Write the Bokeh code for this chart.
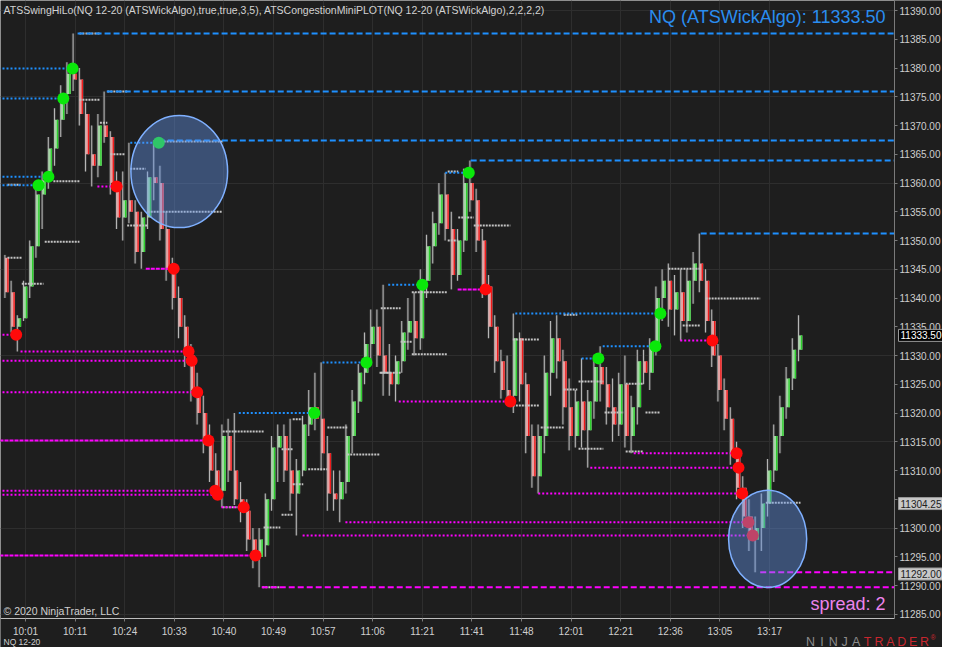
from bokeh.plotting import figure
from bokeh.models import (FixedTicker, SingleIntervalTicker, Label, PrintfTickFormatter,
                          ColumnDataSource, BoxAnnotation)
from bokeh.embed import file_html
from bokeh.resources import INLINE

# ---------------- data (bar index = one candle) ----------------
opens = [11347, 11341, 11335, 11336.5, 11342, 11349, 11358, 11360.5, 11366, 11371,
         11375.5, 11379, 11378, 11372, 11365, 11363, 11370, 11368, 11360, 11354,
         11357, 11355, 11348, 11354, 11361, 11360, 11352, 11345, 11340, 11335,
         11330, 11324, 11320, 11315.5, 11310, 11306.5, 11316, 11310, 11305, 11303,
         11298, 11295, 11297, 11305, 11314, 11316, 11310, 11306, 11310, 11318,
         11321, 11319, 11313, 11306, 11305, 11308, 11316, 11322, 11327, 11332,
         11335, 11330, 11327, 11325, 11329, 11334, 11336, 11333, 11343, 11349,
         11353, 11358, 11352, 11344, 11350, 11360, 11357, 11350, 11342, 11335,
         11329, 11324, 11323, 11333, 11325, 11316, 11309, 11316, 11327, 11333,
         11329, 11321, 11316, 11322, 11317, 11322, 11328, 11325, 11321, 11318,
         11325, 11316, 11321, 11329, 11327, 11332, 11340, 11343, 11338, 11341,
         11336, 11343, 11346, 11343, 11336, 11330, 11324, 11319, 11313, 11307,
         11302, 11298, 11300, 11304.25, 11310, 11316, 11321, 11326, 11331]
highs = [11347.5, 11343, 11337, 11343, 11350, 11360, 11362, 11368, 11373, 11377,
         11381, 11386, 11380, 11374, 11370, 11372, 11375.9, 11369, 11362, 11362,
         11367, 11357, 11355, 11362, 11367.4, 11363, 11355, 11347, 11342, 11337,
         11332, 11327, 11323, 11318, 11313, 11318, 11319, 11320, 11308, 11305,
         11300, 11300, 11306, 11316, 11318, 11318, 11319, 11312, 11319.5, 11324,
         11327, 11328.8, 11316, 11310, 11310, 11318, 11324, 11328.5, 11334, 11338,
         11338, 11342.3, 11332, 11330, 11336, 11340, 11341, 11345, 11351, 11355,
         11360, 11361.8, 11355, 11352, 11362.5, 11363.9, 11359, 11352, 11344, 11337,
         11331, 11330, 11337.3, 11334, 11327, 11318, 11318, 11330, 11336, 11337,
         11331, 11326, 11324, 11329.5, 11324, 11330, 11331.6, 11328, 11326, 11327,
         11330, 11323, 11331, 11331, 11333, 11342, 11345, 11346, 11344, 11345,
         11345, 11348, 11351.2, 11345, 11338, 11332, 11326, 11321, 11315, 11309,
         11305, 11302, 11306, 11312, 11318, 11323, 11328, 11333, 11337]
lows = [11340, 11334, 11330.7, 11336, 11340, 11347, 11352, 11359, 11363, 11368,
        11372, 11376, 11370, 11362, 11359.4, 11361, 11367, 11358, 11352, 11350,
        11353, 11346, 11345.1, 11352, 11357, 11350, 11343, 11338, 11333, 11328,
        11322, 11318, 11313, 11308, 11305, 11303.6, 11308, 11304, 11301, 11296,
        11293, 11289.7, 11295, 11303, 11308, 11308, 11303, 11298.7, 11309, 11316,
        11317, 11310, 11303, 11303, 11301, 11306, 11313, 11320, 11325, 11329,
        11328, 11323, 11323, 11322, 11327, 11331, 11330, 11331, 11340, 11346,
        11351, 11350, 11341.5, 11343, 11348, 11355, 11348, 11340, 11333, 11327,
        11322.5, 11321.5, 11320, 11322, 11313, 11307, 11306, 11313, 11323, 11326,
        11318, 11313.5, 11314, 11314, 11310.5, 11319, 11322, 11318, 11315, 11316,
        11314, 11313, 11318, 11325, 11324, 11330, 11336, 11335, 11333.5, 11332.6,
        11334, 11339, 11341, 11334, 11328, 11322, 11317, 11311, 11305, 11300,
        11296, 11292.3, 11296, 11302, 11308, 11313, 11319, 11324, 11329]
closes = [11341, 11335, 11336.5, 11342, 11349, 11358, 11360.5, 11366, 11371, 11375.5,
          11379, 11378, 11372, 11365, 11363, 11370, 11368, 11360, 11354, 11357,
          11355, 11348, 11354, 11361, 11360, 11352, 11345, 11340, 11335, 11330,
          11324, 11320, 11315.5, 11310, 11306.5, 11316, 11310, 11305, 11303, 11298,
          11295, 11298, 11305, 11314, 11316, 11310, 11306, 11310, 11318, 11321,
          11319, 11313, 11306, 11305, 11308, 11316, 11322, 11327, 11332, 11335,
          11330, 11327, 11325, 11329, 11334, 11336, 11333, 11343, 11349, 11353,
          11358, 11352, 11344, 11350, 11360, 11357, 11350, 11342, 11335, 11329,
          11324, 11323, 11333, 11325, 11316, 11309, 11316, 11327, 11333, 11329,
          11321, 11316, 11322, 11317, 11322, 11328, 11325, 11321, 11318, 11325,
          11316, 11321, 11329, 11327, 11332, 11340, 11343, 11338, 11341, 11336,
          11343, 11346, 11343, 11336, 11330, 11324, 11319, 11313, 11307, 11302,
          11298, 11300, 11304.25, 11310, 11316, 11321, 11326, 11331, 11333.5]

time_tick_bars = [3, 11, 19, 27, 35, 43, 51, 59, 67, 75, 83, 91, 99, 107, 115, 123]
time_labels = ["10:01", "10:11", "10:24", "10:33", "10:40", "10:49", "10:57", "11:06",
               "11:21", "11:41", "11:48", "12:01", "12:21", "12:36", "13:05", "13:17"]

# swing highs that were broken (start bar, break bar, price)
hi_broken_start = [-2, -2, -2, -2, 19.9, 70.7, 61.5, 50.9, 37.4, 82.0, 96.1, 92.7]
hi_broken_end = [9.1, 10.6, 6.7, 5.1, 24.5, 74.5, 67.0, 58.0, 49.6, 105.4, 104.6, 95.4]
hi_broken_price = [11374.7, 11379.9, 11361.1, 11359.6, 11367.0, 11361.8, 11342.3, 11328.8,
                   11320.0, 11337.3, 11331.6, 11329.5]
# swing highs still open
hi_open_start = [11.4, 16.1, 24.5, 74.8, 111.9]
hi_open_price = [11386.0, 11375.9, 11367.4, 11363.9, 11351.2]

# swing lows that were broken (dotted)
lo_broken_start = [-2, 2.2, -2, -2, -2, -2, 14.6, 34.6, 54.6, 47.7, 63.2, 85.7, 94.1, 101.1, 108.6]
lo_broken_end = [1.5, 29.3, 29.8, 30.7, 33.6, 34.0, 17.7, 38.2, 119.6, 120.3, 81.2, 118.6, 118.0, 117.7, 113.8]
lo_broken_price = [11333.6, 11330.7, 11329.1, 11323.6, 11306.5, 11305.8, 11359.4, 11303.6,
                   11301.0, 11298.7, 11322.0, 11306.0, 11310.5, 11313.0, 11332.6]
# swing lows that were broken (dense line)
lo_dense_start = [-2, 22.4, -2, 72.7]
lo_dense_end = [32.5, 26.9, 40.1, 77.2]
lo_dense_price = [11315.2, 11345.1, 11295.2, 11341.5]
# swing lows still open
lo_open_start = [41.1, 121.5]
lo_open_price = [11289.7, 11292.3]

# congestion mini plot segments
cong_start = [11.7, 0.1, 7.5, 6.1, 0.1, 2.4, 11.7, 15.0, 16.2, 16.7, 19.9, 19.4, 22.7, 24.8,
              34.8, 34.8, 41.4, 44.3, 44.3, 46.1, 46.1, 48.6, 51.7, 54.9, 41.2, 60.1, 71.1,
              75.3, 72.8, 71.1, 65.3, 65.3, 60.3, 60.3, 63.5, 81.6, 81.6, 86.1, 89.8, 92.2,
              92.2, 96.4, 99.8, 99.8, 103.0, 89.8, 106.7, 112.7, 122.4, 109.0]
cong_end = [15.0, 2.2, 11.7, 11.7, 2.4, 5.9, 15.0, 16.2, 19.4, 19.1, 22.4, 22.7, 34.8, 34.8,
            41.4, 38.2, 44.1, 46.1, 46.1, 47.8, 47.7, 51.7, 54.9, 60.1, 44.1, 61.9, 72.8,
            81.2, 75.3, 72.8, 71.1, 71.1, 63.5, 63.5, 65.3, 85.9, 85.9, 89.8, 92.0, 96.2,
            96.2, 99.4, 102.7, 102.7, 105.4, 92.0, 111.9, 121.5, 128.0, 111.9]
cong_price = [11386.0, 11359.7, 11360.3, 11349.8, 11347.0, 11342.5, 11374.5, 11370.5, 11375.9,
              11365.0, 11362.5, 11352.6, 11355.0, 11367.2, 11316.8, 11303.6, 11300.1, 11313.7,
              11302.3, 11307.6, 11318.9, 11310.2, 11317.5, 11312.8, 11289.7, 11327.0, 11362.0,
              11352.6, 11354.0, 11350.0, 11341.0, 11330.2, 11338.2, 11327.0, 11332.4, 11332.8,
              11321.3, 11317.5, 11324.1, 11325.5, 11313.8, 11320.1, 11325.1, 11313.3, 11320.1,
              11337.1, 11345.1, 11339.9, 11304.4, 11335.2]

# highlighted areas (bar, price, width in bars, height in points)
hl_x = [27.8, 122.7]
hl_y = [11362.0, 11298.1]
hl_w = [15.6, 12.6]
hl_h = [19.5, 16.9]

marker_prices = [11333.50, 11304.25, 11292.00]
hidden_axis_labels = [11305]     # covered by the 11304.25 marker in the original
spread = 2

# ---------------- layout helpers (pixel -> data) ----------------
W, H = 942, 647
PX0, PXB = 6.4, 6.2          # pixel of bar 0, pixels per bar
PY0, PYP = 10.0, 5.75        # pixel of 11390, pixels per point


def fx(px):
    return (px - PX0) / PXB


def fy(py):
    return 11390 - (py - PY0) / PYP


x_lo, x_hi = fx(0), fx(W)
y_lo, y_hi = fy(H), fy(0)
x_axis_at = fx(894)      # right edge of the price area (y axis line)
y_axis_at = fy(618)      # bottom edge of the price area (x axis line)

BG = "#1e1e1e"
FONT = "Liberation Sans"

p = figure(width=W, height=H, output_backend="svg", toolbar_location=None,
           x_range=(x_lo, x_hi), y_range=(y_lo, y_hi), y_axis_location="right")
p.background_fill_color = BG
p.border_fill_color = BG
p.outline_line_color = None
p.min_border_left = 0
p.min_border_top = 0
p.min_border_right = 0
p.min_border_bottom = 0

# axes (drawn at fixed positions inside the canvas)
yax = p.yaxis[0]
yax.fixed_location = x_axis_at
yax.bounds = (y_axis_at, y_hi)
yax.ticker = SingleIntervalTicker(interval=5, num_minor_ticks=0)
yax.formatter = PrintfTickFormatter(format="%.2f")
yax.major_label_overrides = {v: "" for v in hidden_axis_labels}
yax.axis_line_color = "#7a7a7a"
yax.major_tick_line_color = "#7a7a7a"
yax.major_tick_out = 3
yax.major_tick_in = 0
yax.minor_tick_line_color = None
yax.major_label_text_color = "#cfcfcf"
yax.major_label_text_font = FONT
yax.major_label_text_font_size = "10px"
yax.major_label_standoff = 2

xax = p.xaxis[0]
xax.fixed_location = y_axis_at
xax.bounds = (x_lo, x_axis_at)
xax.ticker = FixedTicker(ticks=time_tick_bars)
xax.major_label_overrides = {b: t for b, t in zip(time_tick_bars, time_labels)}
xax.axis_line_color = "#bdbdbd"
xax.major_tick_line_color = "#7a7a7a"
xax.major_tick_out = 3
xax.major_tick_in = 0
xax.minor_tick_line_color = None
xax.major_label_text_color = "#cfcfcf"
xax.major_label_text_font = FONT
xax.major_label_text_font_size = "10px"
xax.major_label_standoff = 4

p.xgrid.grid_line_color = "#2e2e2e"
p.ygrid.grid_line_color = "#2e2e2e"
p.ygrid.ticker = FixedTicker(ticks=[11285, 11300, 11315, 11330, 11345, 11360, 11375, 11390])

# mask grid outside the price area
p.add_layout(BoxAnnotation(left=x_axis_at, fill_color=BG, fill_alpha=1, line_color=None, level="underlay"))
p.add_layout(BoxAnnotation(top=y_axis_at, fill_color=BG, fill_alpha=1, line_color=None, level="underlay"))

# ---------------- candles ----------------
n = len(closes)
bars = list(range(n))
up = [c >= o for o, c in zip(opens, closes)]
src = ColumnDataSource(dict(
    x=bars,
    xw=[b - 0.32 for b in bars],
    xs=[b + 0.16 for b in bars],
    h=highs, l=lows,
    top=[max(o, c) for o, c in zip(opens, closes)],
    bot=[min(o, c) for o, c in zip(opens, closes)],
    light=["#a4d6a4" if u else "#e3a4a4" for u in up],
    strong=["#2ccf2c" if u else "#f01818" for u in up],
))
p.vbar(x="xw", width=0.45, top="h", bottom="l", source=src, fill_color="#3b3b3b", line_color=None)
p.segment(x0="xw", y0="l", x1="xw", y1="h", source=src, line_color="#b8b8b8", line_width=1)
p.vbar(x="x", width=0.62, top="top", bottom="bot", source=src, fill_color="light", line_color=None)
p.vbar(x="xs", width=0.22, top="top", bottom="bot", source=src, fill_color="strong", line_color=None)

# ---------------- congestion ----------------
p.segment(x0=cong_start, y0=cong_price, x1=cong_end, y1=cong_price,
          line_color="#c4c4c4", line_width=2, line_dash="2 1")

# ---------------- swing lines ----------------
BLUE = "#1e90ff"
MAG = "#ff00ff"
p.segment(x0=hi_broken_start, y0=hi_broken_price, x1=hi_broken_end, y1=hi_broken_price,
          line_color=BLUE, line_width=2, line_dash="2 2")
p.segment(x0=hi_open_start, y0=hi_open_price, x1=[x_axis_at] * len(hi_open_start), y1=hi_open_price,
          line_color=BLUE, line_width=2, line_dash="6 3")
p.segment(x0=lo_broken_start, y0=lo_broken_price, x1=lo_broken_end, y1=lo_broken_price,
          line_color=MAG, line_width=2, line_dash="2 2")
p.segment(x0=lo_dense_start, y0=lo_dense_price, x1=lo_dense_end, y1=lo_dense_price,
          line_color=MAG, line_width=2, line_dash="4 1")
p.segment(x0=lo_open_start, y0=lo_open_price, x1=[x_axis_at] * len(lo_open_start), y1=lo_open_price,
          line_color=MAG, line_width=2, line_dash="6 3")

# break dots
p.scatter(x=hi_broken_end, y=hi_broken_price, size=12, fill_color="#0ae80a", line_color=None)
p.scatter(x=lo_broken_end + lo_dense_end, y=lo_broken_price + lo_dense_price, size=12,
          fill_color="#ff0a0a", line_color=None)

# highlight ellipses
p.ellipse(x=hl_x, y=hl_y, width=hl_w, height=hl_h, fill_color="#6495ed", fill_alpha=0.42,
          line_color="#7fb0ff", line_width=1.5)

# ---------------- texts ----------------
p.add_layout(Label(x=fx(3), y=fy(3), text_baseline="top",
                   text="ATSSwingHiLo(NQ 12-20 (ATSWickAlgo),true,true,3,5), ATSCongestionMiniPLOT(NQ 12-20 (ATSWickAlgo),2,2,2,2)",
                   text_color="#d2d2d2", text_font=FONT, text_font_size="10.5px"))
p.add_layout(Label(x=fx(885), y=fy(16), text_align="right", text_baseline="middle",
                   text="NQ (ATSWickAlgo): %.2f" % closes[-1],
                   text_color="#2a8df0", text_font=FONT, text_font_size="18px"))
p.add_layout(Label(x=fx(885), y=fy(603), text_align="right", text_baseline="middle",
                   text="spread: %d" % spread, text_color="#ec84ec", text_font=FONT, text_font_size="18px"))
p.add_layout(Label(x=fx(3), y=fy(610), text_baseline="middle",
                   text="\u00a9 2020 NinjaTrader, LLC", text_color="#cfcfcf", text_font=FONT,
                   text_font_size="10.5px"))
p.add_layout(Label(x=fx(3), y=fy(641), text_baseline="middle",
                   text="NQ 12-20", text_color="#cfcfcf", text_font=FONT, text_font_size="8.5px"))

# logo
logo = "NINJATRADER"
for k, ch in enumerate(logo):
    p.add_layout(Label(x=fx(810 + 11.4 * k), y=fy(641), text_align="center",
                       text_baseline="middle", text=ch,
                       text_color="#8c8c8c" if k < 5 else "#c8262e",
                       text_font=FONT, text_font_size="12.5px"))
p.add_layout(Label(x=fx(930), y=fy(637), text_align="left", text_baseline="middle", text="\u00ae",
                   text_color="#c8262e", text_font=FONT, text_font_size="7px"))

# price markers on the axis
marker_fill = ["#000000", "#c8c8c8", "#c8c8c8"]
marker_text = ["#ffffff", "#202020", "#202020"]
for pr, fc, tc in zip(marker_prices, marker_fill, marker_text):
    p.add_layout(Label(x=x_axis_at, y=pr, x_offset=4, text_baseline="middle", text="%.2f" % pr,
                       text_color=tc, text_font=FONT, text_font_size="10px",
                       background_fill_color=fc, border_line_color="#9a9a9a", padding=2))

open("out.html", "w").write(file_html(p, INLINE))
